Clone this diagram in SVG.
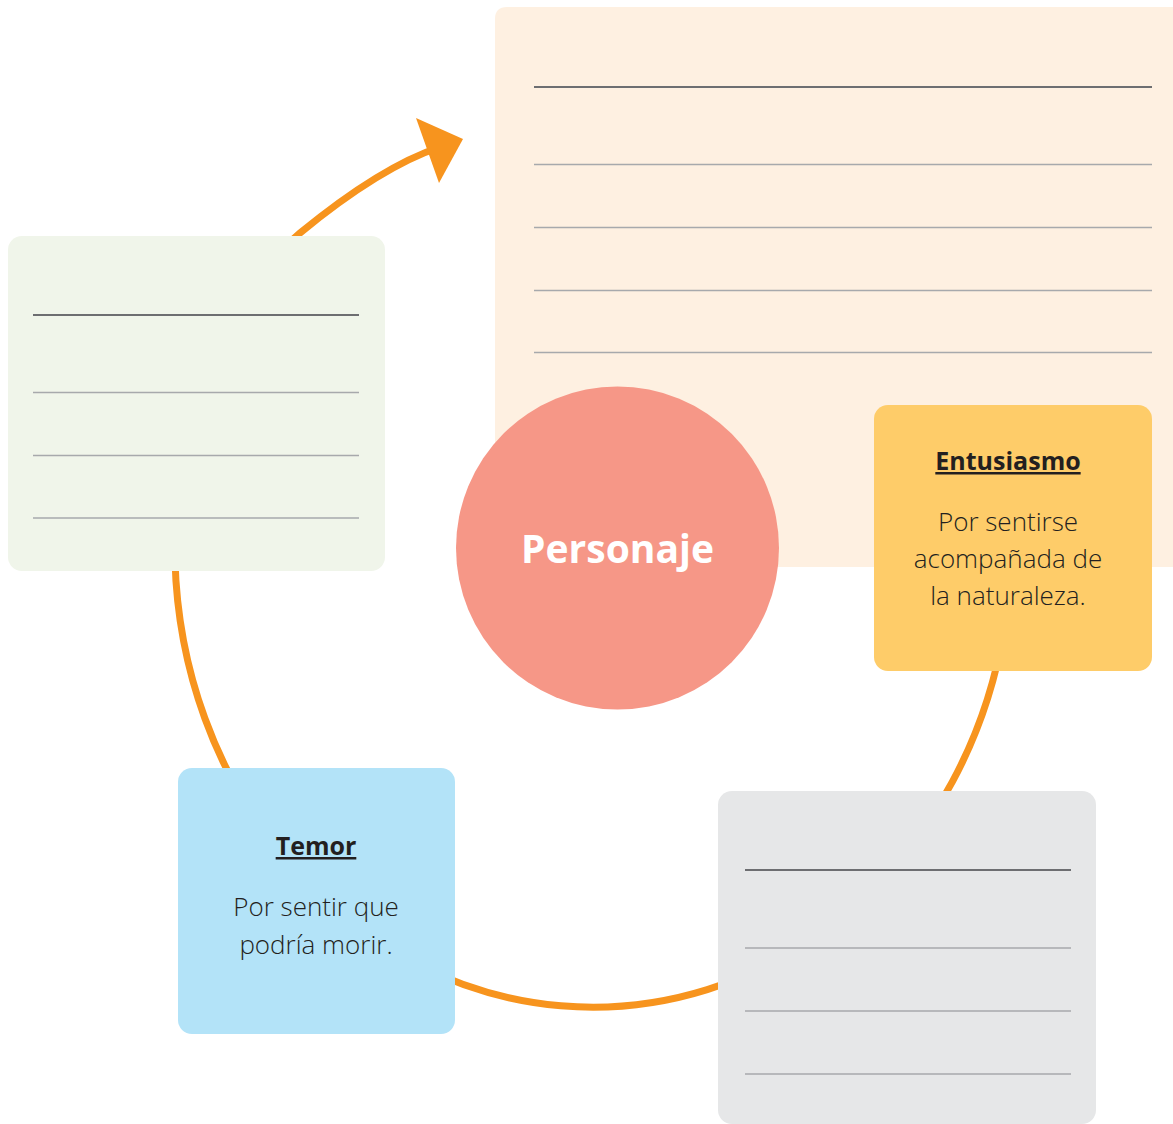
<svg xmlns="http://www.w3.org/2000/svg" width="1173" height="1124" viewBox="0 0 1173 1124">
<style>
.dark{stroke:#6d6e71;stroke-width:2}
.lite{stroke:#a7a9ac;stroke-width:1.5}
.title{font-family:"Open Sans","Liberation Sans",sans-serif;font-weight:700;font-size:25px;fill:#231f20;text-anchor:middle;text-decoration:underline}
.body{font-family:"Open Sans","Liberation Sans",sans-serif;font-weight:300;font-size:26px;fill:#231f20;text-anchor:middle}
.conn{fill:none;stroke:#f7941e;stroke-width:7}
</style>
<rect width="1173" height="1124" fill="#ffffff"/>
<g id="node-top-box">
<path d="M495,19 Q495,7 507,7 L1173,7 L1173,567 L495,567 Z" fill="#fef0e1"/>
<line class="dark" x1="534" y1="87" x2="1152" y2="87"/>
<line class="lite" x1="534" y1="164.5" x2="1152" y2="164.5"/>
<line class="lite" x1="534" y1="227.5" x2="1152" y2="227.5"/>
<line class="lite" x1="534" y1="290.5" x2="1152" y2="290.5"/>
<line class="lite" x1="534" y1="352.5" x2="1152" y2="352.5"/>
</g>
<g id="connectors">
<path class="conn" d="M1004,630 A418,460 0 0 1 175,560 C175,420 220,300 300,233 C345,196 395,162 440,147"/>
<polygon points="416,118 463,139 439,183" fill="#f7941e"/>
</g>
<g id="node-left-box">
<rect x="8" y="236" width="377" height="335" rx="14" fill="#f0f5ea"/>
<line class="dark" x1="33" y1="315" x2="359" y2="315"/>
<line class="lite" x1="33" y1="392.5" x2="359" y2="392.5"/>
<line class="lite" x1="33" y1="455.5" x2="359" y2="455.5"/>
<line class="lite" x1="33" y1="518" x2="359" y2="518"/>
</g>
<g id="node-entusiasmo">
<rect x="874" y="405" width="278" height="266" rx="14" fill="#fecc69"/>
<text class="title" x="1008" y="470">Entusiasmo</text>
<text class="body" x="1008" y="531">Por sentirse</text>
<text class="body" x="1008" y="568">acompañada de</text>
<text class="body" x="1008" y="605">la naturaleza.</text>
</g>
<g id="node-temor">
<rect x="178" y="768" width="277" height="266" rx="14" fill="#b3e3f8"/>
<text class="title" x="316" y="855">Temor</text>
<text class="body" x="316" y="916">Por sentir que</text>
<text class="body" x="316" y="954">podría morir.</text>
</g>
<g id="node-bottom-box">
<rect x="718" y="791" width="378" height="333" rx="14" fill="#e6e7e8"/>
<line class="dark" x1="745" y1="870" x2="1071" y2="870"/>
<line class="lite" x1="745" y1="948" x2="1071" y2="948"/>
<line class="lite" x1="745" y1="1011" x2="1071" y2="1011"/>
<line class="lite" x1="745" y1="1074" x2="1071" y2="1074"/>
</g>
<g id="node-personaje">
<circle cx="617.5" cy="548" r="161.5" fill="#f69787"/>
<text x="617.5" y="563" font-family="'Open Sans','Liberation Sans',sans-serif" font-weight="700" font-size="39" fill="#ffffff" text-anchor="middle">Personaje</text>
</g>
</svg>
